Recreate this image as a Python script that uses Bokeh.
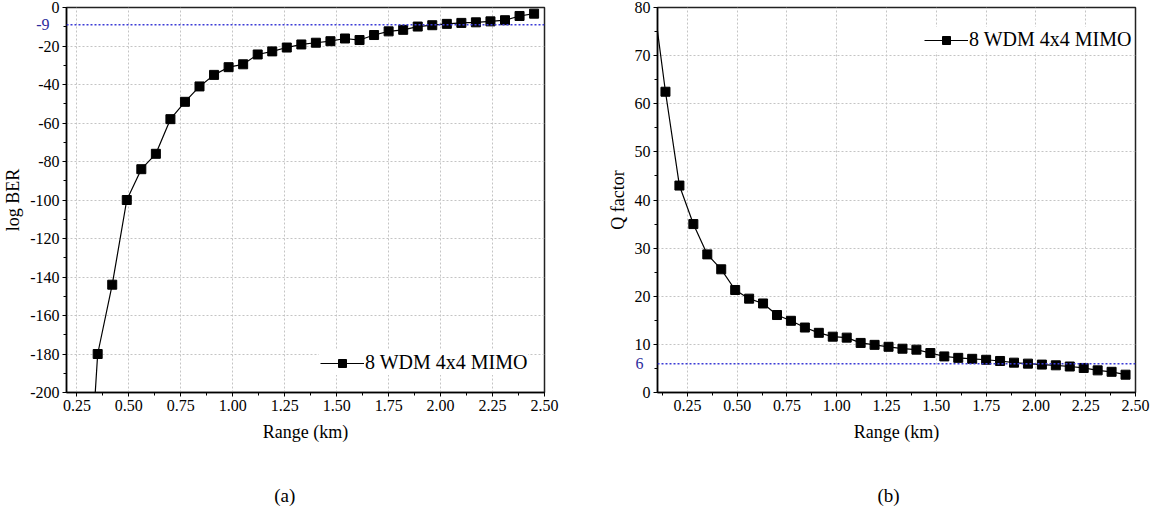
from bokeh.plotting import figure
from bokeh.models import (Range1d, FixedTicker, PrintfTickFormatter, Span,
                          Legend, LegendItem, LinearAxis)
from bokeh.layouts import row
from bokeh.embed import file_html
from bokeh.resources import INLINE

# ---------------- data ----------------
range_a = [0.28, 0.35, 0.42, 0.49, 0.56, 0.63, 0.70, 0.77, 0.84, 0.91, 0.98,
           1.05, 1.12, 1.19, 1.26, 1.33, 1.40, 1.47, 1.54, 1.61, 1.68, 1.75,
           1.82, 1.89, 1.96, 2.03, 2.10, 2.17, 2.24, 2.31, 2.38, 2.45]
log_ber = [-300, -180, -144, -100, -84, -76, -58, -49, -41, -35, -31,
           -29.5, -24.4, -22.8, -20.8, -19.2, -18.3, -17.5, -16.1, -16.9, -14.3, -12.4,
           -11.6, -9.9, -9.2, -8.5, -8.0, -7.7, -7.2, -6.6, -4.4, -3.2]

range_b = [0.07, 0.14, 0.21, 0.28, 0.35, 0.42, 0.49, 0.56, 0.63, 0.70, 0.77,
           0.84, 0.91, 0.98, 1.05, 1.12, 1.19, 1.26, 1.33, 1.40, 1.47, 1.54,
           1.61, 1.68, 1.75, 1.82, 1.89, 1.96, 2.03, 2.10, 2.17, 2.24, 2.31,
           2.38, 2.45]
q_factor = [84.5, 62.5, 43.0, 35.0, 28.7, 25.6, 21.3, 19.5, 18.5, 16.1, 14.9,
            13.5, 12.4, 11.6, 11.4, 10.3, 9.9, 9.5, 9.1, 8.9, 8.2, 7.5,
            7.2, 7.0, 6.8, 6.55, 6.2, 6.0, 5.8, 5.65, 5.4, 5.1, 4.6,
            4.3, 3.7]

x_ticks = [0.25, 0.50, 0.75, 1.00, 1.25, 1.50, 1.75, 2.00, 2.25, 2.50]
x_minor = [0.125, 0.375, 0.625, 0.875, 1.125, 1.375, 1.625, 1.875, 2.125, 2.375]
ya_ticks = [-200, -180, -160, -140, -120, -100, -80, -60, -40, -20, 0]
ya_minor = [-190, -170, -150, -130, -110, -90, -70, -50, -30, -10]
yb_ticks = [0, 10, 20, 30, 40, 50, 60, 70, 80]
yb_minor = [5, 15, 25, 35, 45, 55, 65, 75]

series_label = "8 WDM 4x4 MIMO"
threshold_a, threshold_a_text = -9, "-9"
threshold_b, threshold_b_text = 6, "6"
caption_a, caption_b = "(a)", "(b)"

FONT = "Liberation Serif"
BLUE_LINE = "#3b3bd6"
BLUE_TEXT = "#2c2c9c"


def text_axis(at, label, standoff, size, color):
    ax = LinearAxis(ticker=FixedTicker(ticks=[at]),
                    major_label_overrides={at: label},
                    axis_line_color=None, major_tick_line_color=None,
                    minor_tick_line_color=None, major_tick_in=0, major_tick_out=0,
                    minor_tick_in=0, minor_tick_out=0,
                    major_label_standoff=standoff,
                    major_label_text_font=FONT, major_label_text_font_size=size,
                    major_label_text_color=color)
    return ax


def make_panel(xs, ys, xr, yr, yt, ym, ylabel, thr, thr_text, thr_standoff,
               legend_loc, caption, cap_x, width, left, right):
    p = figure(width=width, height=514, output_backend="svg", toolbar_location=None,
               x_range=Range1d(*xr), y_range=Range1d(*yr),
               min_border_left=left, min_border_right=right,
               min_border_top=7, min_border_bottom=122)
    p.background_fill_color = "white"
    p.border_fill_color = "white"
    p.outline_line_color = "#222222"
    p.outline_line_width = 1.5

    p.xaxis.ticker = FixedTicker(ticks=x_ticks, minor_ticks=x_minor)
    p.xaxis.formatter = PrintfTickFormatter(format="%.2f")
    p.yaxis.ticker = FixedTicker(ticks=yt, minor_ticks=ym)
    p.yaxis.formatter = PrintfTickFormatter(format="%d")
    p.xaxis.axis_label = "Range (km)"
    p.yaxis.axis_label = ylabel
    for ax in (p.xaxis, p.yaxis):
        ax.axis_line_color = "black"
        ax.axis_line_width = 1.5
        ax.major_tick_line_color = "black"
        ax.minor_tick_line_color = "black"
        ax.major_tick_in = 0
        ax.major_tick_out = 4
        ax.minor_tick_in = 0
        ax.minor_tick_out = 3
        ax.major_label_text_font = FONT
        ax.major_label_text_color = "black"
        ax.axis_label_text_font = FONT
        ax.axis_label_text_font_style = "normal"
        ax.axis_label_text_font_size = "18px"
        ax.axis_label_text_color = "black"
    p.xaxis.major_label_text_font_size = "16px"
    p.yaxis.major_label_text_font_size = "16px"
    p.xaxis.major_label_standoff = 3
    p.yaxis.major_label_standoff = 3
    p.xaxis.axis_label_standoff = 8
    p.yaxis.axis_label_standoff = 4

    for g in (p.xgrid, p.ygrid):
        g.grid_line_color = "#c4c4c4"
        g.grid_line_dash = "2 2"
        g.grid_line_width = 1
    p.xgrid.ticker = FixedTicker(ticks=x_ticks)
    p.ygrid.ticker = FixedTicker(ticks=yt)

    p.add_layout(Span(location=thr, dimension="width", line_color=BLUE_LINE,
                      line_dash="2 2", line_width=1.5))

    ln = p.line(xs, ys, line_color="black", line_width=1.2)
    sc = p.scatter(xs, ys, marker="square", size=9, fill_color="black",
                   line_color="black")

    leg = Legend(items=[LegendItem(label=series_label, renderers=[ln, sc])],
                 location=legend_loc, glyph_width=44, glyph_height=20,
                 label_standoff=1, padding=1, margin=0, spacing=0,
                 label_text_font=FONT, label_text_font_size="20px",
                 label_text_color="black", border_line_alpha=0,
                 background_fill_color="white", background_fill_alpha=1)
    p.add_layout(leg)

    # blue threshold value, written beside the left axis (outer text-only axis)
    p.add_layout(text_axis(thr, thr_text, thr_standoff, "16px", BLUE_TEXT), "left")
    # panel caption below the x-axis title (outer text-only axis)
    p.add_layout(text_axis(cap_x, caption, 40, "19px", "black"), "below")
    return p


p1 = make_panel(range_a, log_ber, (0.2, 2.5), (-200, 0), ya_ticks, ya_minor,
                "log BER", threshold_a, threshold_a_text, -49,
                (253, 17), caption_a, 1.25,
                width=582, left=64, right=38)
p2 = make_panel(range_b, q_factor, (0.1, 2.5), (0, 80), yb_ticks, yb_minor,
                "Q factor", threshold_b, threshold_b_text, -39,
                (266, 340), caption_b, 1.26,
                width=568, left=75, right=15)

layout = row(p1, p2)
open("out.html", "w").write(file_html(layout, INLINE))
